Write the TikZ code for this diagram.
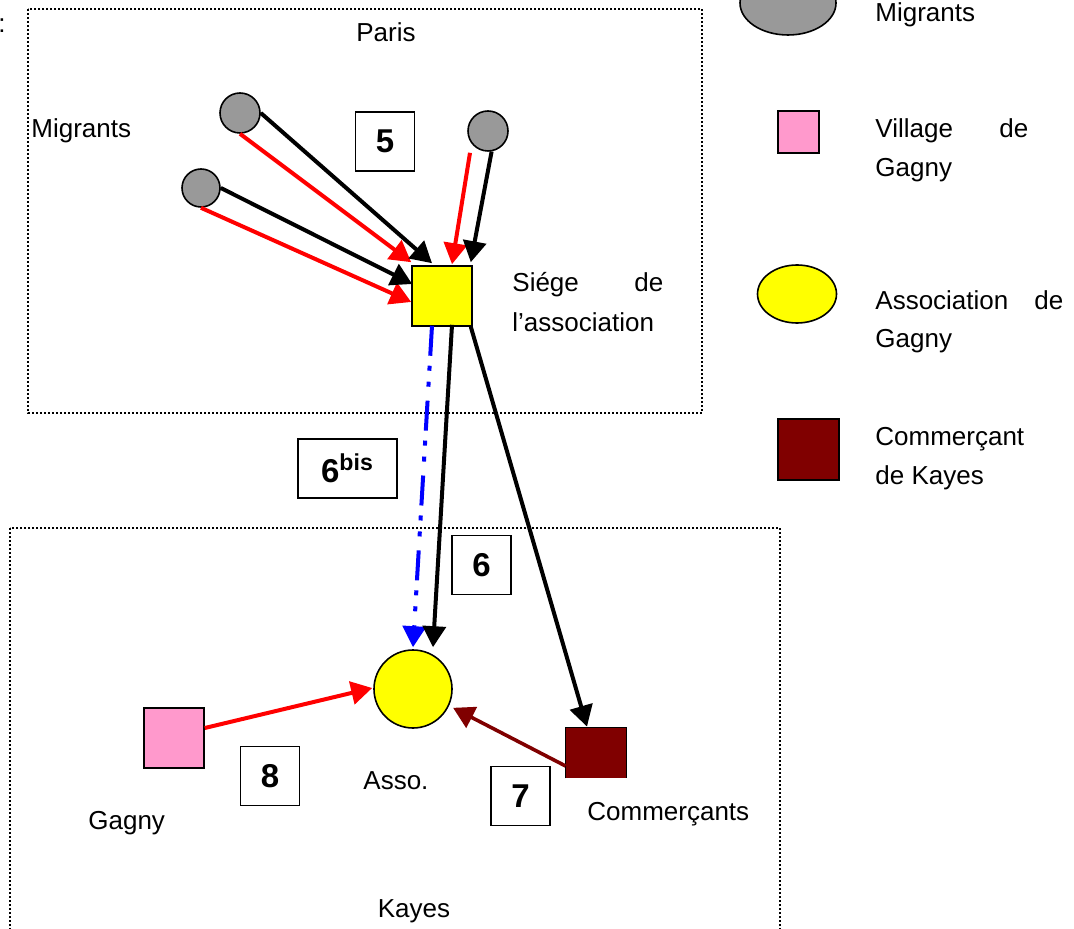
\documentclass[tikz,border=0pt]{standalone}
\usepackage{fontspec}
\setmainfont{Liberation Sans}
\usetikzlibrary{arrows.meta,calc,shapes.geometric}
\definecolor{migrgray}{RGB}{153,153,153}
\definecolor{darkred}{RGB}{128,0,0}
\definecolor{pinkv}{RGB}{255,153,204}
\definecolor{assoyellow}{RGB}{255,255,0}
\definecolor{pureblue}{RGB}{0,0,255}
\definecolor{purered}{RGB}{255,0,0}
\begin{document}
\begin{tikzpicture}[x=0.5pt,y=-0.5pt,
  every node/.style={font=\fontsize{13}{16}\selectfont},
  zone/.style={draw, line width=0.8pt, dash pattern=on 0.8pt off 1.2pt},
  migr/.style={circle, draw, line width=0.8pt, fill=migrgray, minimum size=20pt, inner sep=0pt},
  sqbox/.style={rectangle, draw, line width=0.8pt, minimum width=30pt, minimum height=30pt, inner sep=0pt},
  numbox/.style={rectangle, draw, line width=0.8pt, minimum width=29.5pt, minimum height=29.5pt, inner sep=0pt, font=\fontsize{16.5}{18}\selectfont\bfseries},
  lbl/.style={anchor=base west, inner sep=0pt},
  arr/.style={line width=2pt, -{Triangle[length=10.5pt,width=11.5pt]}},
]
\useasboundingbox (0,0) rectangle (1074,929);

% zones
\draw[zone] (28,9) rectangle (702,413);
\draw[zone] (10,528) rectangle (780,960);
\node[lbl] (colon) at (-2,33) {:};
\node[anchor=base, inner sep=0pt] (paris) at (386,42) {Paris};
\node[anchor=base, inner sep=0pt] (kayes) at (414,917) {Kayes};

% Paris nodes
\node[migr] (m1) at (240,113) {};
\node[migr, minimum size=19pt] (m2) at (201,188) {};
\node[migr] (m3) at (488,131) {};
\node[sqbox, fill=assoyellow] (sq) at (442,296) {};
\node[lbl] (tmig) at (31,138) {Migrants};
\node[lbl, text width=75.5pt] (tsiege1) at (512,292) {Siége\hfill de};
\node[lbl] (tsiege2) at (512,332) {l’association};
\node[numbox] (n5) at (385,141.5) {5};

% Kayes nodes
\node[circle, draw, line width=0.8pt, fill=assoyellow, minimum size=39pt, inner sep=0pt] (asso) at (413,689) {};
\node[rectangle, fill=darkred, minimum width=30pt, minimum height=25pt, inner sep=0pt] (com) at (596,753) {};
\draw[line width=0.8pt] (com.south west) -- (com.north west) -- (com.north east) -- (com.south east);
\node[sqbox, fill=pinkv] (vil) at (174,738) {};
\node[lbl] (tasso) at (363,789) {Asso.};
\node[lbl] (tgagny) at (88,829) {Gagny};
\node[lbl] (tcom) at (587,820) {Commerçants};
\node[numbox, minimum width=49.5pt] (n6b) at (347.5,468.5) {6\textsuperscript{bis}};
\node[numbox] (n6) at (481.5,565) {6};
\node[numbox] (n7) at (520.5,796) {7};
\node[numbox] (n8) at (270,776) {8};

% arrows migrants -> siege
\draw[arr, purered] (m1.south) -- ($(sq.north west)+(0,-3)$);
\draw[arr, black] (m1.east) -- ($(sq.north)+(-10,-2)$);
\draw[arr, purered] (m2.south) -- ($(sq.west)+(0,6)$);
\draw[arr, black] (m2.east) -- ($(sq.west)+(1,-12)$);
\draw[arr, purered] ($(m3.south)+(-18,1)$) -- ($(sq.north)+(10,-1)$);
\draw[arr, black] (m3.-80) -- ($(sq.north east)+(-2,-3)$);

% arrows siege -> Kayes
\draw[line width=2pt, pureblue, dash pattern=on 15pt off 5pt on 2.5pt off 5.5pt on 2.5pt off 7pt,
      -{Triangle[length=10.5pt,width=11.5pt]}] ($(sq.south)+(-10,-1)$) -- ($(asso.north)+(0,-2)$);
\draw[arr, black] ($(sq.south)+(10,-2)$) -- ($(asso.north)+(20,-2)$);
\draw[arr, black] ($(sq.south east)+(-2,0)$) -- ($(com.north)+(-9,-1)$);

% arrows in Kayes
\draw[arr, darkred, line width=1.8pt] ($(com.west)+(0,13)$) -- ($(asso.-25)+(4,2)$);
\draw[arr, purered] ($(vil.east)+(0,-10)$) -- ($(asso.west)+(-1,-1)$);

% legend
\node[ellipse, draw, line width=0.8pt, fill=migrgray, minimum width=48pt, minimum height=32pt, inner sep=0pt] (lmig) at (788,3) {};
\node[lbl] (tlmig) at (875,22) {Migrants};
\node[rectangle, draw, line width=0.8pt, fill=pinkv, minimum width=20.5pt, minimum height=21pt, inner sep=0pt] (lvil) at (798.5,132) {};
\node[lbl, text width=76.5pt] (tlvil1) at (875,138) {Village\hfill de};
\node[lbl] (tlvil2) at (875,177) {Gagny};
\node[ellipse, draw, line width=0.8pt, fill=assoyellow, minimum width=39.5pt, minimum height=29pt, inner sep=0pt] (lasso) at (797,294) {};
\node[lbl, text width=94pt] (tlasso1) at (875,310) {Association\hfill de};
\node[lbl] (tlasso2) at (875,348) {Gagny};
\node[rectangle, draw, line width=0.8pt, fill=darkred, minimum width=30.5pt, minimum height=30.5pt, inner sep=0pt] (lcom) at (808.5,449.5) {};
\node[lbl] (tlcom1) at (875,446) {Commerçant};
\node[lbl] (tlcom2) at (875,485) {de Kayes};
\end{tikzpicture}
\end{document}
